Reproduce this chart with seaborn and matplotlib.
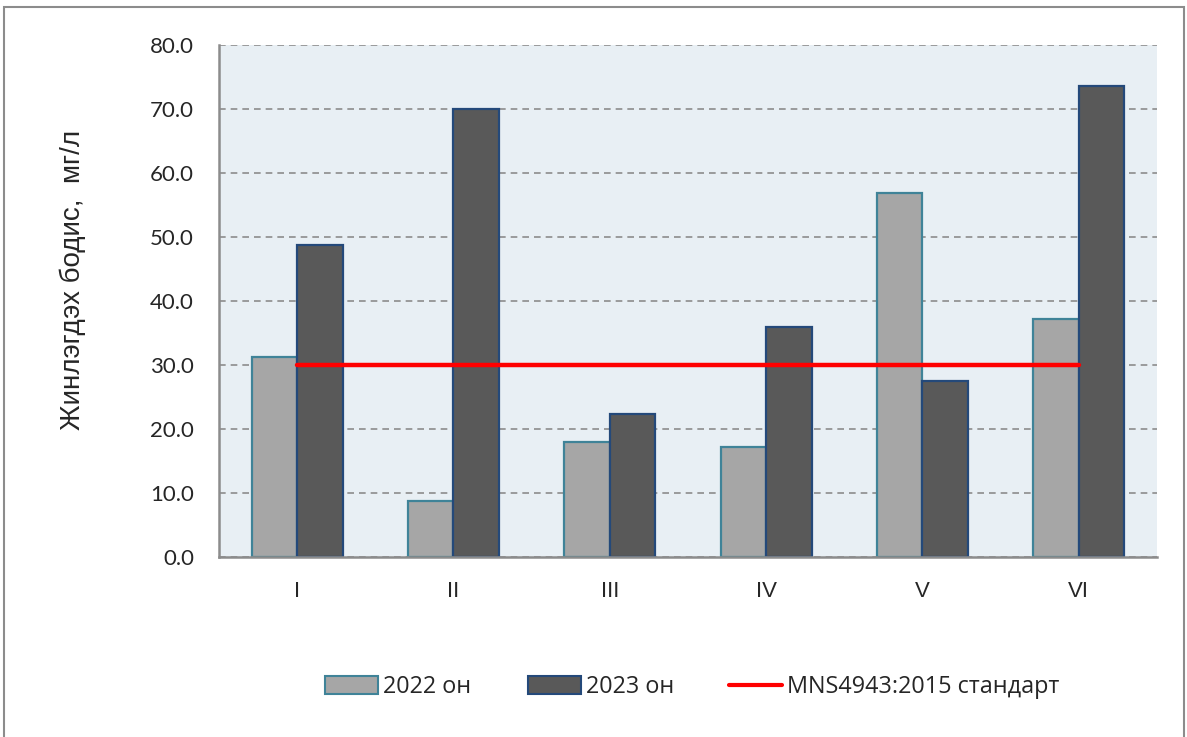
import matplotlib
matplotlib.use("Agg")
import matplotlib.pyplot as plt
import numpy as np
import pandas as pd
import seaborn as sns
from matplotlib.patches import Patch, Rectangle
from matplotlib.lines import Line2D

# data
categories = ["I", "II", "III", "IV", "V", "VI"]
values_2022 = [31.2, 8.8, 18.0, 17.2, 56.9, 37.2]
values_2023 = [48.8, 70.0, 22.3, 35.9, 27.5, 73.6]
standard = 30.0
series_names = ["2022 он", "2023 он"]
standard_name = "MNS4943:2015 стандарт"

df = pd.DataFrame({
    "cat": categories * 2,
    "val": values_2022 + values_2023,
    "year": [series_names[0]] * 6 + [series_names[1]] * 6,
})

sns.set_style("white")
plt.rcParams["font.family"] = ["Liberation Sans", "DejaVu Sans"]

fills = ["#A6A6A6", "#595959"]
edges = ["#3F8398", "#24497A"]

fig = plt.figure(figsize=(11.87, 7.37), dpi=100)
ax = fig.add_axes([219 / 1187, 1 - 557 / 737, 938 / 1187, 512 / 737])
ax.set_facecolor("#E8EFF4")

sns.barplot(data=df, x="cat", y="val", hue="year", palette=fills,
            width=0.58, gap=0, ax=ax, legend=False, zorder=3)
for cont, ec in zip(ax.containers, edges):
    for bar in cont:
        bar.set_edgecolor(ec)
        bar.set_linewidth(1.6)

# standard line from first to last category centre
ax.plot([0, len(categories) - 1], [standard, standard], color="#FF0000",
        lw=3.2, zorder=4)

ax.set_xlim(-0.5, 5.5)
ax.set_ylim(0, 80)
ax.set_yticks(np.arange(0, 81, 10))
ax.set_yticklabels([f"{v:.1f}" for v in np.arange(0, 81, 10)],
                   fontsize=16, family=["Lato", "DejaVu Sans"])
ax.tick_params(axis="x", labelsize=16, length=0, pad=17)
ax.tick_params(axis="y", length=7, width=1.5, color="#8C8C8C", direction="out", pad=11)
ax.grid(axis="y", color="#8C8C8C", linestyle=(0, (4, 3)), lw=1.2, zorder=1)
ax.set_axisbelow(True)
for s in ["top", "right"]:
    ax.spines[s].set_visible(False)
for s in ["left", "bottom"]:
    ax.spines[s].set_color("#8C8C8C")
    ax.spines[s].set_linewidth(1.8)
    ax.spines[s].set_zorder(5)
ax.set_xlabel("")
ax.set_ylabel("Жинлэгдэх бодис,  мг/л", fontsize=20, va="center")
ax.yaxis.set_label_coords(-146 / 938, (557 - 280) / 512)

# legend entries laid out in Excel-style fixed columns
handles = [
    Patch(facecolor=fills[0], edgecolor=edges[0], lw=1.5, label=series_names[0]),
    Patch(facecolor=fills[1], edgecolor=edges[1], lw=1.5, label=series_names[1]),
    Line2D([0], [0], color="#FF0000", lw=3, label=standard_name),
]
for h, x0 in zip(handles, [325, 528, 729]):
    fig.legend(handles=[h], loc="center left", bbox_to_anchor=(x0 / 1187, 1 - 687 / 737),
               frameon=False, prop={"family": ["Open Sans", "DejaVu Sans"], "size": 16.8},
               borderpad=0, borderaxespad=0,
               handlelength=2.27, handleheight=0.77, handletextpad=0.2)

# outer chart-area frame
fig.patches.append(Rectangle((4 / 1187, -0.02), 1180 / 1187, 1 - 7 / 737 + 0.02,
                             transform=fig.transFigure, fill=False,
                             edgecolor="#8C8C8C", lw=1.5))

fig.savefig("out.png", dpi=100)
